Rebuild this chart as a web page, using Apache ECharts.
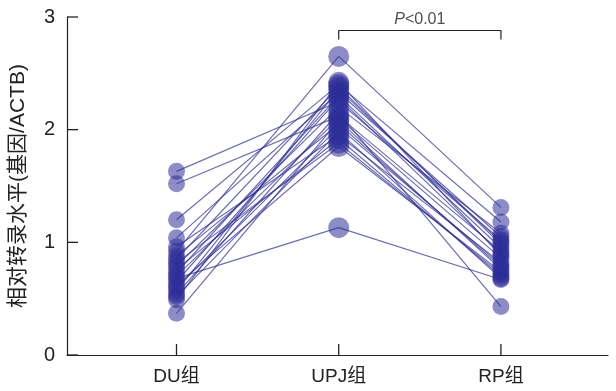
<!DOCTYPE html>
<html><head><meta charset="utf-8">
<script src="https://cdn.jsdelivr.net/npm/echarts@6/dist/echarts.min.js"></script>
<style>html,body{margin:0;padding:0;background:#fff}#c{width:616px;height:391px}</style>
</head><body><div id="c"></div>
<script>
var categories = ['DU组', 'UPJ组', 'RP组'];
var yTicks = [0, 1, 2, 3];
var duValues  = [1.63,1.52,1.20,1.04,0.96,0.92,0.88,0.85,0.82,0.79,0.76,0.73,0.70,0.68,0.65,0.62,0.60,0.57,0.54,0.52,0.49,0.37];
var upjValues = [2.25,2.12,2.40,2.33,1.95,2.65,2.05,2.38,1.88,2.20,1.92,2.30,2.10,1.13,2.28,1.85,2.02,2.36,2.15,1.98,2.42,2.08];
var rpValues  = [1.02,0.92,1.18,1.05,0.82,1.31,0.78,0.98,0.72,1.08,0.70,0.95,0.86,0.67,0.90,0.74,0.80,1.00,0.43,0.68,0.88,0.76];
var sigPair = [1, 2];
var sigBracket = [2.80, 2.88];
var sigLabelY = 2.975;

var xMin = -0.675, xMax = 2.66;
var tickLenX = 0.068;   // inward y-axis tick length, in x units
var tickLenY = 0.098;   // inward x-axis tick length, in y units

var col = '#2e2e99';
var axisCol = '#222';
var series = [];
for (var i = 0; i < duValues.length; i++) {
  series.push({
    type: 'line', data: [[0, duValues[i]], [1, upjValues[i]], [2, rpValues[i]]],
    showSymbol: false, silent: true, z: 1,
    lineStyle: { color: col, width: 1.2, opacity: 0.7 }
  });
}
function pts(vals, x) { return vals.map(function (v) { return [x, v]; }); }
[[duValues, 0, 17], [upjValues, 1, 21], [rpValues, 2, 17]].forEach(function (s) {
  series.push({
    type: 'scatter', data: pts(s[0], s[1]), symbolSize: s[2], z: 2,
    itemStyle: { color: col, opacity: 0.55 }
  });
});
// inward ticks
var tickX = categories.map(function (c, k) { return [[k, 0], [k, tickLenY]]; });
var tickYs = yTicks.map(function (v) { return [[xMin, v], [xMin + tickLenX, v]]; });
tickX.concat(tickYs).forEach(function (seg) {
  series.push({ type: 'line', data: seg, showSymbol: false, silent: true, z: 5, clip: false,
    lineStyle: { color: axisCol, width: 1.3 } });
});
series.push({
  type: 'line', data: [[sigPair[0], sigBracket[0]], [sigPair[0], sigBracket[1]], [sigPair[1], sigBracket[1]], [sigPair[1], sigBracket[0]]],
  showSymbol: false, silent: true, z: 3, lineStyle: { color: axisCol, width: 1.2 }
});
series.push({
  type: 'scatter', data: [[(sigPair[0] + sigPair[1]) / 2, sigLabelY]], symbolSize: 0, silent: true,
  label: {
    show: true, position: 'inside', formatter: '{i|P}{n|<0.01}',
    rich: {
      i: { fontStyle: 'italic', fontSize: 16, color: axisCol, fontFamily: 'Liberation Sans, Arial' },
      n: { fontSize: 16, color: axisCol, fontFamily: 'Liberation Sans, Arial' }
    }
  }
});

var chart = echarts.init(document.getElementById('c'));
chart.setOption({
  animation: false,
  grid: { left: 65, right: 8, top: 17, bottom: 36 },
  xAxis: {
    type: 'value', min: xMin, max: xMax,
    axisLine: { show: true, onZero: false, lineStyle: { color: axisCol, width: 1.2 } },
    axisTick: { show: false },
    axisLabel: {
      customValues: [0, 1, 2], formatter: function (v) { return categories[Math.round(v)]; },
      fontSize: 19, color: axisCol, margin: 12, fontFamily: 'Liberation Sans, Arial, Noto Sans CJK SC'
    },
    splitLine: { show: false }
  },
  yAxis: {
    type: 'value', min: yTicks[0], max: yTicks[yTicks.length - 1], interval: 1,
    name: '相对转录水平(基因/ACTB)', nameLocation: 'middle', nameGap: 38,
    nameTextStyle: { fontSize: 21, color: axisCol, fontFamily: 'Liberation Sans, Arial, Noto Sans CJK SC' },
    axisLine: { show: true, onZero: false, lineStyle: { color: axisCol, width: 1.2 } },
    axisTick: { show: false },
    axisLabel: { fontSize: 20, color: axisCol, margin: 12, fontFamily: 'Liberation Sans, Arial' },
    splitLine: { show: false }
  },
  series: series
});
</script></body></html>
